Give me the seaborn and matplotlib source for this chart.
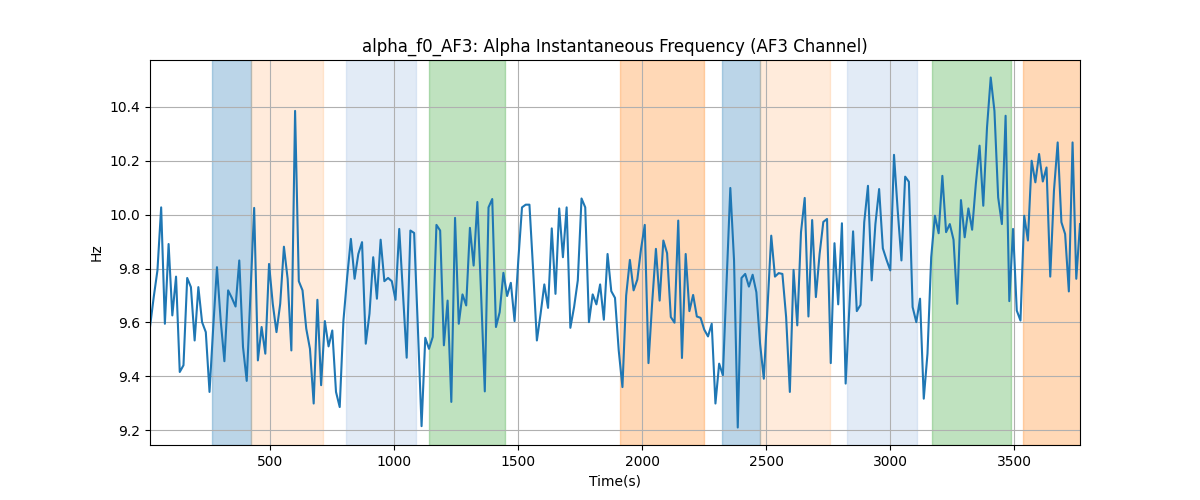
import matplotlib
matplotlib.use("Agg")
import matplotlib.pyplot as plt
import numpy as np
import pandas as pd
import seaborn as sns

# sampling of the instantaneous frequency trace (seconds)
t_start = 15
t_step = 15

freq_hz = [
    9.583, 9.694, 9.793, 10.027, 9.595, 9.891, 9.626, 9.770, 9.416, 9.441,
    9.765, 9.731, 9.533, 9.731, 9.601, 9.564, 9.342, 9.583, 9.805, 9.607,
    9.456, 9.719, 9.691, 9.659, 9.830, 9.509, 9.383, 9.706, 10.025, 9.459,
    9.583, 9.484, 9.817, 9.669, 9.564, 9.669, 9.881, 9.762, 9.496, 10.385,
    9.753, 9.719, 9.577, 9.502, 9.299, 9.684, 9.367, 9.605, 9.511, 9.570,
    9.342, 9.286, 9.607, 9.768, 9.910, 9.762, 9.854, 9.898, 9.521, 9.632,
    9.842, 9.688, 9.907, 9.753, 9.765, 9.753, 9.684, 9.947, 9.706, 9.469,
    9.941, 9.932, 9.583, 9.215, 9.543, 9.502, 9.546, 9.962, 9.941, 9.515,
    9.681, 9.305, 9.988, 9.595, 9.704, 9.663, 9.951, 9.811, 10.047, 9.706,
    9.344, 10.027, 10.058, 9.583, 9.638, 9.784, 9.698, 9.747, 9.605, 9.830,
    10.027, 10.037, 10.037, 9.793, 9.533, 9.632, 9.741, 9.654, 9.949, 9.706,
    10.023, 9.842, 10.027, 9.580, 9.657, 9.756, 10.060, 10.027, 9.601, 9.704,
    9.667, 9.741, 9.610, 9.854, 9.716, 9.691, 9.496, 9.360, 9.700, 9.832,
    9.719, 9.759, 9.873, 9.962, 9.449, 9.675, 9.873, 9.681, 9.904, 9.857,
    9.620, 9.599, 9.978, 9.468, 9.854, 9.642, 9.702, 9.622, 9.617, 9.573,
    9.548, 9.595, 9.299, 9.447, 9.404, 9.756, 10.099, 9.830, 9.210, 9.765,
    9.780, 9.733, 9.777, 9.712, 9.521, 9.391, 9.657, 9.922, 9.770, 9.783,
    9.780, 9.620, 9.342, 9.795, 9.589, 9.935, 10.062, 9.622, 9.980, 9.694,
    9.854, 9.973, 9.984, 9.449, 9.894, 9.667, 9.968, 9.373, 9.657, 9.938,
    9.642, 9.665, 9.972, 10.107, 9.756, 9.965, 10.095, 9.875, 9.832, 9.793,
    10.222, 10.015, 9.830, 10.141, 10.122, 9.657, 9.601, 9.688, 9.317, 9.484,
    9.842, 9.996, 9.931, 10.144, 9.935, 9.965, 9.907, 9.669, 10.054, 9.916,
    10.023, 9.944, 10.114, 10.256, 10.033, 10.323, 10.509, 10.385, 10.064, 9.965,
    10.367, 9.679, 9.947, 9.644, 9.607, 9.996, 9.904, 10.200, 10.120, 10.225,
    10.123, 10.175, 9.770, 10.089, 10.268, 9.972, 9.928, 9.715, 10.268, 9.762,
    9.965,
]

# shaded task segments
span_starts = [265, 421, 805, 1140, 1910, 2320, 2476, 2825, 3168, 3535]
span_ends = [421, 711, 1087, 1445, 2247, 2476, 2757, 3107, 3485, 3790]
span_kinds = ["a", "b", "c", "d", "e", "a", "b", "c", "d", "e"]

span_style = {
    "a": ("tab:blue", 0.3),
    "b": ("tab:orange", 0.15),
    "c": ("#aec7e8", 0.35),
    "d": ("tab:green", 0.3),
    "e": ("tab:orange", 0.3),
}

times = t_start + t_step * np.arange(len(freq_hz))
df = pd.DataFrame({"time": times, "freq": freq_hz})

fig, ax = plt.subplots(figsize=(12, 5), dpi=100)

for s, e, k in zip(span_starts, span_ends, span_kinds):
    color, alpha = span_style[k]
    ax.axvspan(s, e, color=color, alpha=alpha)

sns.lineplot(data=df, x="time", y="freq", ax=ax, color="tab:blue", linewidth=1.5)

ax.set_xlim(df["time"].min(), df["time"].max())
ax.grid(True)
ax.set_xlabel("Time(s)")
ax.set_ylabel("Hz")
ax.set_title("alpha_f0_AF3: Alpha Instantaneous Frequency (AF3 Channel)")

plt.savefig("out.png")
